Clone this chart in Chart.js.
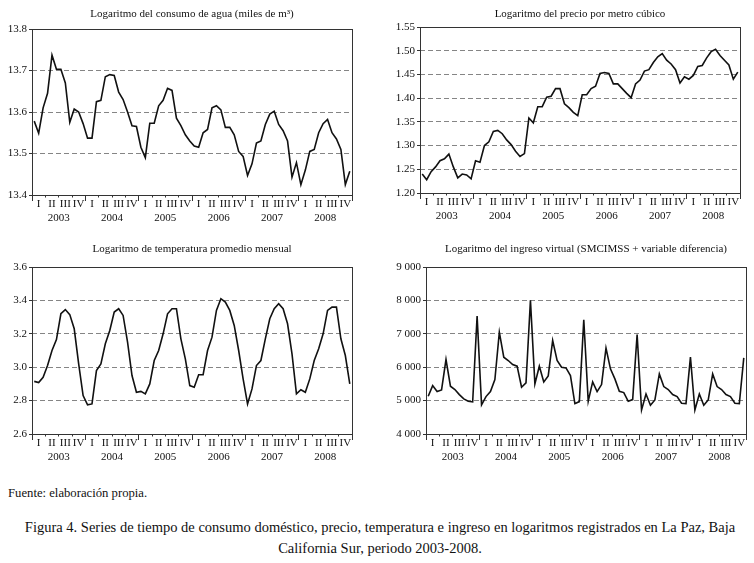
<!DOCTYPE html>
<html>
<head>
<meta charset="utf-8">
<script src="https://cdn.jsdelivr.net/npm/chart.js@4.4.1/dist/chart.umd.min.js"></script>
<style>
  body { margin: 0; background: #fff; font-family: "Liberation Serif", serif; color: #111; }
  #page { position: relative; width: 754px; height: 563px; overflow: hidden; }
  canvas { position: absolute; }
  #fuente { position: absolute; left: 8px; top: 485px; font-size: 12.7px; line-height: 16px; }
  #caption { position: absolute; left: 0; width: 760px; top: 517px; text-align: center; font-size: 14.5px; line-height: 21px; }
</style>
</head>
<body>
<div id="page">
  <canvas id="c1" style="left:0;top:0;width:377px;height:232px" width="377" height="232"></canvas>
  <canvas id="c2" style="left:377px;top:0;width:377px;height:232px" width="377" height="232"></canvas>
  <canvas id="c3" style="left:0;top:235px;width:377px;height:240px" width="377" height="240"></canvas>
  <canvas id="c4" style="left:377px;top:235px;width:377px;height:240px" width="377" height="240"></canvas>
  <div id="fuente">Fuente: elaboración propia.</div>
  <div id="caption">Figura 4. Series de tiempo de consumo doméstico, precio, temperatura e ingreso en logaritmos registrados en La Paz, Baja<br>California Sur, periodo 2003-2008.</div>
</div>
<script>
// data
var years = ['2003', '2004', '2005', '2006', '2007', '2008'];
var quarters = ['I', 'II', 'III', 'IV'];
var months = [];
years.forEach(function (y) {
  for (var m = 1; m <= 12; m++) months.push(y + '-' + (m < 10 ? '0' + m : m));
});

var consumoAgua = [
  13.578, 13.549, 13.610, 13.645, 13.737, 13.703, 13.703, 13.670, 13.575, 13.607, 13.600, 13.572,
  13.537, 13.537, 13.625, 13.628, 13.685, 13.690, 13.688, 13.648, 13.630, 13.600, 13.567, 13.565,
  13.515, 13.490, 13.573, 13.573, 13.615, 13.628, 13.657, 13.652, 13.585, 13.567, 13.545, 13.530,
  13.518, 13.515, 13.550, 13.558, 13.610, 13.615, 13.605, 13.563, 13.563, 13.545, 13.505, 13.493,
  13.447, 13.475, 13.525, 13.530, 13.570, 13.595, 13.602, 13.570, 13.555, 13.530, 13.443, 13.478,
  13.425, 13.460, 13.505, 13.510, 13.550, 13.572, 13.582, 13.550, 13.535, 13.510, 13.425, 13.457
];
var precioM3 = [
  1.240, 1.228, 1.245, 1.255, 1.268, 1.272, 1.282, 1.255, 1.232, 1.240, 1.238, 1.230,
  1.268, 1.265, 1.300, 1.308, 1.330, 1.332, 1.325, 1.312, 1.302, 1.288, 1.277, 1.283,
  1.358, 1.348, 1.382, 1.382, 1.402, 1.404, 1.420, 1.420, 1.388, 1.380, 1.370, 1.363,
  1.407, 1.407, 1.420, 1.425, 1.452, 1.454, 1.452, 1.430, 1.430, 1.420, 1.410, 1.401,
  1.430, 1.438, 1.457, 1.460, 1.475, 1.487, 1.494, 1.480, 1.472, 1.460, 1.432, 1.445,
  1.440, 1.448, 1.467, 1.469, 1.485, 1.498, 1.503, 1.490, 1.480, 1.470, 1.440, 1.455
];
var temperatura = [
  2.915, 2.908, 2.940, 3.010, 3.100, 3.165, 3.320, 3.345, 3.315, 3.230, 3.020, 2.830,
  2.775, 2.780, 2.980, 3.020, 3.140, 3.220, 3.330, 3.350, 3.310, 3.150, 2.950, 2.850,
  2.855, 2.840, 2.900, 3.040, 3.100, 3.200, 3.320, 3.350, 3.350, 3.170, 3.050, 2.890,
  2.880, 2.955, 2.955, 3.100, 3.180, 3.340, 3.410, 3.390, 3.340, 3.250, 3.100, 2.930,
  2.780, 2.870, 3.010, 3.040, 3.170, 3.290, 3.350, 3.380, 3.350, 3.260, 3.080, 2.840,
  2.865, 2.850, 2.930, 3.040, 3.110, 3.200, 3.340, 3.360, 3.360, 3.170, 3.070, 2.900
];
var ingresoVirtual = [
  5130, 5450, 5270, 5320, 6230, 5430, 5330, 5180, 5050, 4980, 4960, 7530,
  4870, 5120, 5270, 5630, 7050, 6300, 6200, 6080, 6030, 5400, 5530, 8000,
  5500, 6030, 5560, 5740, 6800, 6200, 6000, 5980, 5750, 4910, 4970, 7420,
  4980, 5560, 5270, 5480, 6570, 5950, 5650, 5280, 5240, 4980, 5030, 6980,
  4720, 5200, 4860, 5020, 5800, 5420, 5330, 5180, 5120, 4920, 4910, 6300,
  4720, 5200, 4860, 5020, 5800, 5420, 5330, 5180, 5120, 4920, 4910, 6280
];

var aguaTicks = [13.4, 13.5, 13.6, 13.7, 13.8];
var precioTicks = [1.20, 1.25, 1.30, 1.35, 1.40, 1.45, 1.50, 1.55];
var tempTicks = [2.6, 2.8, 3.0, 3.2, 3.4, 3.6];
var ingresoTicks = [4000, 5000, 6000, 7000, 8000, 9000];

Chart.defaults.font.family = '"Liberation Serif", serif';
Chart.defaults.font.size = 11;
Chart.defaults.color = '#111';

// box around the plot area
var frame = {
  id: 'frame',
  afterDatasetsDraw: function (chart) {
    var a = chart.chartArea, ctx = chart.ctx;
    ctx.save();
    ctx.strokeStyle = '#333';
    ctx.lineWidth = 1;
    ctx.strokeRect(Math.round(a.left) + 0.5, Math.round(a.top) + 0.5,
      Math.round(a.right - a.left), Math.round(a.bottom - a.top));
    ctx.restore();
  }
};

function isBoundary(v) { return Math.abs(((v + 0.5) / 3) - Math.round((v + 0.5) / 3)) < 1e-6; }

function panel(id, title, values, yTicks, fmt, box) {
  var cv = document.getElementById(id);
  var W = cv.width, H = cv.height;
  var qH = 16, yH = 16;
  var qTicks = [], yearEdges = [];
  for (var k = 0; k <= 24; k++) {
    qTicks.push(-0.5 + 3 * k);
    if (k < 24) qTicks.push(1 + 3 * k);
  }
  for (var j = 0; j <= years.length; j++) yearEdges.push(-0.5 + 12 * j);
  return new Chart(cv, {
    type: 'line',
    data: {
      labels: months,
      datasets: [{ data: values, borderColor: '#111', borderWidth: 1.6, pointRadius: 0, tension: 0, fill: false }]
    },
    options: {
      responsive: false,
      animation: false,
      layout: { padding: { left: 0, right: W - box.right, top: 0, bottom: H - box.bottom - qH - yH } },
      plugins: {
        legend: { display: false },
        tooltip: { enabled: false },
        title: {
          display: true, text: title, fullSize: false, color: '#111',
          font: { size: 11, weight: 'normal' },
          padding: { top: 7.5, bottom: box.top - 13.2 - 7.5 }
        }
      },
      scales: {
        x: { type: 'category', display: false, offset: true },
        y: {
          min: yTicks[0], max: yTicks[yTicks.length - 1],
          afterBuildTicks: function (s) { s.ticks = yTicks.map(function (v) { return { value: v }; }); },
          afterFit: function (s) { s.width = box.left; },
          ticks: { padding: 2, color: '#111', callback: function (v) { return fmt(v); } },
          grid: {
            color: function (c) { return (c.index === 0 || c.index === yTicks.length - 1) ? 'rgba(0,0,0,0)' : '#858585'; },
            tickColor: '#333', tickLength: 3, lineWidth: 1
          },
          border: { display: false, dash: [5, 3] }
        },
        // long marks at the year edges, no height of its own
        xt: {
          type: 'linear', position: 'bottom', axis: 'x', weight: 0.5,
          min: -0.5, max: 71.5, bounds: 'data',
          afterBuildTicks: function (s) { s.ticks = yearEdges.map(function (v) { return { value: v }; }); },
          afterFit: function (s) { s.height = 0; },
          ticks: { display: false },
          grid: { drawOnChartArea: false, tickLength: 6, tickColor: '#333' },
          border: { display: false }
        },
        xq: {
          type: 'linear', position: 'bottom', axis: 'x', weight: 1,
          min: -0.5, max: 71.5, bounds: 'data',
          afterBuildTicks: function (s) { s.ticks = qTicks.map(function (v) { return { value: v }; }); },
          afterFit: function (s) { s.height = qH; },
          ticks: {
            autoSkip: false, maxRotation: 0, padding: -0.1, color: '#111',
            callback: function (v) {
              if (isBoundary(v)) return '';
              return quarters[Math.round((v - 1) / 3) % 4];
            }
          },
          grid: {
            drawOnChartArea: false, tickLength: 2.5,
            tickColor: function (c) { return c.tick && isBoundary(c.tick.value) ? '#333' : 'rgba(0,0,0,0)'; }
          },
          border: { display: false }
        },
        xy: {
          type: 'linear', position: 'bottom', axis: 'x', weight: 2,
          min: -0.5, max: 71.5, bounds: 'data',
          afterBuildTicks: function (s) { s.ticks = years.map(function (y, i) { return { value: 5.5 + 12 * i }; }); },
          afterFit: function (s) { s.height = yH; },
          ticks: {
            autoSkip: false, maxRotation: 0, padding: 0.4, color: '#111',
            callback: function (v) { return years[Math.round((v - 5.5) / 12)]; }
          },
          grid: { display: false, drawTicks: false },
          border: { display: false }
        }
      }
    },
    plugins: [frame]
  });
}

function oneDec(v) { return v.toFixed(1); }
function twoDec(v) { return v.toFixed(2); }
function thousands(v) { return String(v).replace(/\B(?=(\d{3})+(?!\d))/g, ' '); }

panel('c1', 'Logaritmo del consumo de agua (miles de m³)', consumoAgua, aguaTicks, oneDec,
  { left: 32, right: 352, top: 29, bottom: 195 });
panel('c2', 'Logaritmo del precio por metro cúbico', precioM3, precioTicks, twoDec,
  { left: 43, right: 363, top: 27, bottom: 193 });
panel('c3', 'Logaritmo de temperatura promedio mensual', temperatura, tempTicks, oneDec,
  { left: 32, right: 352, top: 32, bottom: 199 });
panel('c4', 'Logaritmo del ingreso virtual (SMCIMSS + variable diferencia)', ingresoVirtual, ingresoTicks, thousands,
  { left: 49, right: 369, top: 32, bottom: 199 });
</script>
</body>
</html>
